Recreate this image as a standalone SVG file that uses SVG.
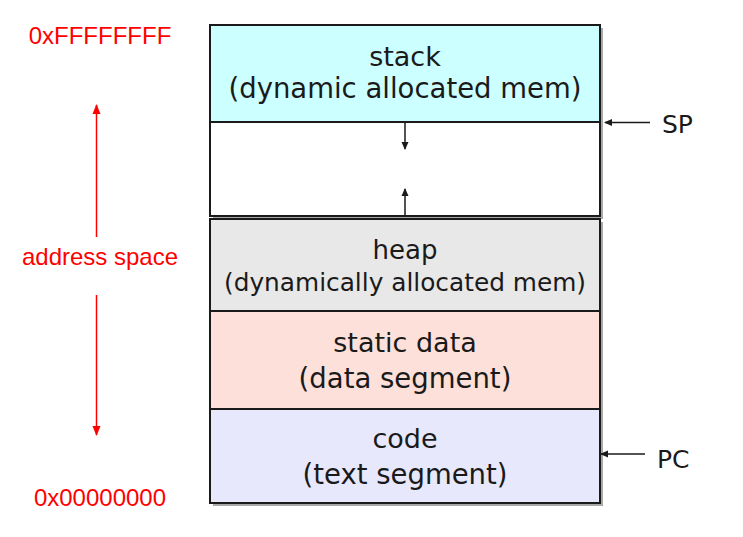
<svg xmlns="http://www.w3.org/2000/svg" width="743" height="537" viewBox="0 0 743 537">
<defs>
<style>
.box{stroke:#1a1a1a;stroke-width:2}
.sh{fill:#a8a8a8}
.t{font-family:"DejaVu Sans",Verdana,sans-serif;font-size:27px;fill:#1a1a1a;text-anchor:middle}
.lbl{font-family:"DejaVu Sans",Verdana,sans-serif;font-size:25px;fill:#1a1a1a}
.red{font-family:"Liberation Sans",Arial,sans-serif;font-size:24px;fill:#ff0000;text-anchor:middle}
.ln{stroke:#1a1a1a;stroke-width:1.5;fill:none}
.rln{stroke:#ff0000;stroke-width:1.5;fill:none}
</style>
<marker id="ah" markerWidth="8" markerHeight="8" refX="7" refY="4" orient="auto" markerUnits="userSpaceOnUse">
<path d="M0,0.5 L8,4 L0,7.5 Z" fill="#1a1a1a"/>
</marker>
<marker id="rah" markerWidth="10" markerHeight="10" refX="9" refY="5" orient="auto" markerUnits="userSpaceOnUse">
<path d="M0,1 L10,5 L0,9 Z" fill="#ff0000"/>
</marker>
</defs>
<rect width="743" height="537" fill="#ffffff"/>

<g id="stack">
<rect class="sh" x="213" y="28" width="390" height="97"/>
<rect class="box" x="210" y="25" width="390" height="97" fill="#ccffff"/>
<text class="t" x="405" y="66">stack</text>
<text class="t" x="405" y="98" style="font-size:27.5px">(dynamic allocated mem)</text>
</g>
<g id="free">
<rect class="sh" x="213" y="125" width="390" height="94"/>
<rect class="box" x="210" y="122" width="390" height="94" fill="#ffffff"/>
</g>
<g id="heap">
<rect class="sh" x="213" y="222" width="390" height="92"/>
<rect class="box" x="210" y="219" width="390" height="92" fill="#e8e8e8"/>
<text class="t" x="405" y="259" style="font-size:26px">heap</text>
<text class="t" x="405" y="291" style="font-size:24.8px">(dynamically allocated mem)</text>
</g>
<g id="static">
<rect class="sh" x="213" y="314" width="390" height="98"/>
<rect class="box" x="210" y="311" width="390" height="98" fill="#fde0d9"/>
<text class="t" x="405" y="352">static data</text>
<text class="t" x="405" y="388" style="font-size:27.5px">(data segment)</text>
</g>
<g id="code">
<rect class="sh" x="213" y="412" width="390" height="94"/>
<rect class="box" x="210" y="409" width="390" height="94" fill="#e8e8fc"/>
<text class="t" x="405" y="448">code</text>
<text class="t" x="405" y="484" style="font-size:27.5px">(text segment)</text>
</g>
<g id="sp"><text class="lbl" x="662" y="133">SP</text></g>
<g id="pc"><text class="lbl" x="657" y="468">PC</text></g>
<g id="addr">
<text class="red" x="100" y="44">0xFFFFFFFF</text>
<text class="red" x="100" y="265">address space</text>
<text class="red" x="100" y="506">0x00000000</text>
</g>

<g id="connectors">
<line class="ln" x1="405" y1="123" x2="405" y2="149" marker-end="url(#ah)"/>
<line class="ln" x1="405" y1="215" x2="405" y2="189" marker-end="url(#ah)"/>
<line class="ln" x1="650" y1="122.5" x2="605" y2="122.5" marker-end="url(#ah)"/>
<line class="ln" x1="645" y1="454" x2="601" y2="454" marker-end="url(#ah)"/>
<line class="rln" x1="96.5" y1="237" x2="96.5" y2="105" marker-end="url(#rah)"/>
<line class="rln" x1="96.5" y1="295" x2="96.5" y2="435" marker-end="url(#rah)"/>
</g>
</svg>
